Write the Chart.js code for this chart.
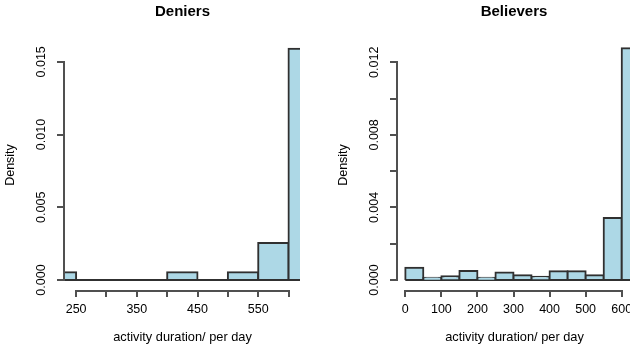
<!DOCTYPE html>
<html>
<head>
<meta charset="utf-8">
<script src="https://cdn.jsdelivr.net/npm/chart.js@4/dist/chart.umd.min.js"></script>
<style>
  html, body { margin: 0; padding: 0; background: #fff; }
  #wrap { position: relative; width: 630px; height: 350px; overflow: hidden; }
  canvas { position: absolute; top: 0; }
</style>
</head>
<body>
<div id="wrap">
  <canvas id="c1" width="315" height="350" style="left:0px"></canvas>
  <canvas id="c2" width="315" height="350" style="left:315px"></canvas>
</div>
<script>
// ---- data ----
const binWidth = 50;
const deniersBins = [200, 250, 300, 350, 400, 450, 500, 550, 600];
const deniersDensity = [0.00053, 0, 0, 0, 0.00053, 0, 0.00053, 0.00255, 0.0159];
const believersBins = [0, 50, 100, 150, 200, 250, 300, 350, 400, 450, 500, 550, 600];
const believersDensity = [0.00068, 0.00013, 0.0002, 0.0005, 0.00013, 0.00042, 0.00026, 0.00018, 0.00048, 0.00048, 0.00026, 0.00342, 0.01277];

const deniersXTicks = [250, 300, 350, 400, 450, 500, 550, 600];
const deniersXLabels = [250, 350, 450, 550];
const deniersYTicks = [0, 0.005, 0.010, 0.015];
const deniersYLabels = [0, 0.005, 0.010, 0.015];

const believersXTicks = [0, 100, 200, 300, 400, 500, 600];
const believersXLabels = [0, 100, 200, 300, 400, 500, 600];
const believersYTicks = [0, 0.002, 0.004, 0.006, 0.008, 0.010, 0.012];
const believersYLabels = [0, 0.004, 0.008, 0.012];

const titles = ['Deniers', 'Believers'];
const xTitle = 'activity duration/ per day';
const yTitle = 'Density';

const FONT = "'Liberation Sans', Arial, Helvetica, sans-serif";
const LINE = '#303030';
const AXIS = '#505050';

function axesPlugin(spec) {
  return {
    id: 'rAxes',
    beforeDatasetsDraw(chart) {
      const ctx = chart.ctx, xs = chart.scales.x, ys = chart.scales.y, a = chart.chartArea;
      const x0 = Math.max(a.left, xs.getPixelForValue(spec.bins[0]));
      const x1 = Math.min(a.right, xs.getPixelForValue(spec.bins[spec.bins.length - 1] + binWidth));
      const yz = Math.round(ys.getPixelForValue(0));
      ctx.save();
      ctx.strokeStyle = LINE; ctx.lineWidth = 2;
      ctx.beginPath(); ctx.moveTo(x0, yz); ctx.lineTo(x1, yz); ctx.stroke();
      ctx.restore();
    },
    afterDraw(chart) {
      const ctx = chart.ctx, xs = chart.scales.x, ys = chart.scales.y, a = chart.chartArea;
      ctx.save();
      ctx.strokeStyle = AXIS; ctx.lineWidth = 2; ctx.fillStyle = '#000';
      // y axis
      const ax = Math.round(a.left);
      const yt = spec.yTicks.map(v => Math.round(ys.getPixelForValue(v)));
      ctx.beginPath();
      ctx.moveTo(ax, yt[0] + 1); ctx.lineTo(ax, yt[yt.length - 1] - 1);
      yt.forEach(p => { ctx.moveTo(ax, p); ctx.lineTo(ax - 7, p); });
      ctx.stroke();
      ctx.font = '12.5px ' + FONT;
      ctx.textAlign = 'center'; ctx.textBaseline = 'middle';
      spec.yLabels.forEach(v => {
        const p = ys.getPixelForValue(v);
        ctx.save(); ctx.translate(a.left - 22.5, p); ctx.rotate(-Math.PI / 2);
        ctx.fillText(v.toFixed(3), 0, 0); ctx.restore();
      });
      ctx.save(); ctx.translate(a.left - 53, (a.top + a.bottom) / 2 + 5); ctx.rotate(-Math.PI / 2);
      ctx.fillText(yTitle, 0, 0); ctx.restore();
      // x axis
      const ay = 291;
      const xt = spec.xTicks.map(v => Math.round(xs.getPixelForValue(v)));
      ctx.beginPath();
      ctx.moveTo(xt[0] - 1, ay); ctx.lineTo(xt[xt.length - 1] + 1, ay);
      xt.forEach(p => { ctx.moveTo(p, ay); ctx.lineTo(p, ay + 6); });
      ctx.stroke();
      spec.xLabels.forEach(v => ctx.fillText(String(v), xs.getPixelForValue(v), 310));
      ctx.font = '12.8px ' + FONT;
      ctx.fillText(xTitle, spec.xTitleX, 337.5);
      ctx.font = 'bold 15px ' + FONT;
      ctx.fillText(spec.title, spec.titleX, 12);
      ctx.restore();
    }
  };
}

function makeChart(id, spec) {
  return new Chart(document.getElementById(id), {
    type: 'bar',
    data: {
      datasets: [{
        data: spec.bins.map((b, i) => ({ x: b + binWidth / 2, y: spec.density[i] })),
        backgroundColor: '#ADD8E6',
        borderColor: LINE,
        borderWidth: 2,
        borderSkipped: false,
        inflateAmount: 1,
        barPercentage: 1,
        categoryPercentage: 1,
        clip: 0
      }]
    },
    options: {
      responsive: false,
      animation: false,
      devicePixelRatio: 1,
      layout: { padding: spec.padding },
      plugins: { legend: { display: false }, tooltip: { enabled: false }, title: { display: false } },
      scales: {
        x: { type: 'linear', min: spec.xMin, max: spec.xMax, offset: false, display: false },
        y: { type: 'linear', min: 0, max: spec.yMax, display: false }
      }
    },
    plugins: [axesPlugin(spec)]
  });
}

makeChart('c1', {
  bins: deniersBins, density: deniersDensity,
  xTicks: deniersXTicks, xLabels: deniersXLabels,
  yTicks: deniersYTicks, yLabels: deniersYLabels,
  xMin: 230, xMax: 618.9, yMax: 0.0165,
  padding: { left: 64, right: 15, top: 40, bottom: 70 },
  title: titles[0], titleX: 182.5, xTitleX: 182.5
});

makeChart('c2', {
  bins: believersBins, density: believersDensity,
  xTicks: believersXTicks, xLabels: believersXLabels,
  yTicks: believersYTicks, yLabels: believersYLabels,
  xMin: -23, xMax: 623, yMax: 0.01323,
  padding: { left: 82, right: 0, top: 40, bottom: 70 },
  title: titles[1], titleX: 199, xTitleX: 199.5
});
</script>
</body>
</html>
